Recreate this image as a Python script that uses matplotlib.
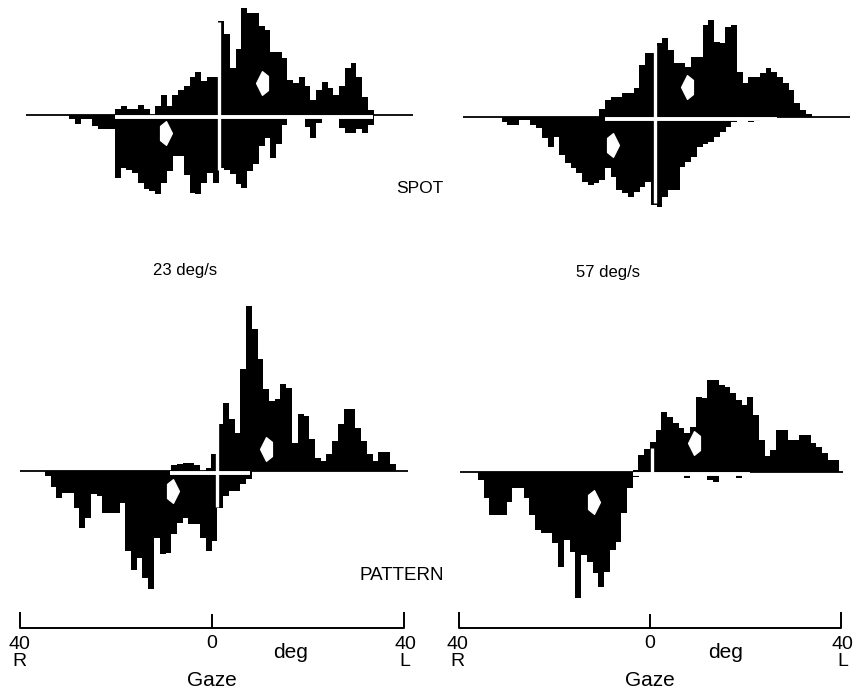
import matplotlib
matplotlib.use("Agg")
import matplotlib.pyplot as plt
import numpy as np
from matplotlib.path import Path

# gaze histograms, bins of 1.2 deg; counts above (leftward slow phase) and below the line
bin_w = 1.2

spot23_start = -29.85
spot23_up = [0, 0, 0, 0, 0, 0, 0, 0, 6, 9, 6, 6, 10, 6, 0, 9, 20, 9, 20, 25, 29, 38, 43, 34, 38, 38,
             94, 81, 47, 66, 107, 102, 102, 89, 85, 63, 63, 57, 35, 32, 38, 29, 15, 25, 33, 27, 20,
             29, 47, 52, 38, 18, 5]
spot23_down = [4, 9, 4, 4, 11, 14, 14, 14, 63, 53, 55, 58, 68, 74, 76, 79, 68, 56, 41, 41, 60, 78,
               79, 68, 58, 68, 53, 55, 59, 69, 73, 56, 49, 31, 23, 43, 29, 10, 0, 0, 0, 12, 23, 8,
               0, 0, 0, 13, 18, 18, 14, 18, 10]

spot57_start = -31.0
spot57_up = [0] * 17 + [8, 17, 20, 20, 24, 24, 29, 52, 64, 64, 74, 79, 67, 54, 54, 50, 60, 60, 92,
                        97, 75, 74, 90, 92, 45, 34, 40, 40, 44, 49, 45, 40, 34, 27, 14, 7, 3]
spot57_down = [5, 8, 8, 3, 3, 8, 11, 21, 30, 20, 38, 46, 51, 56, 65, 68, 66, 63, 51, 60, 73, 76, 80,
               75, 70, 65, 88, 90, 80, 73, 73, 50, 45, 40, 30, 27, 25, 20, 15, 10, 5, 0, 3, 5, 4,
               0, 0, 0, 0, 0, 0, 0, 0, 0]

pat23_start = -34.9
pat23_up = [0] * 22 + [6, 7, 8, 8, 6, 0, 3, 17, 47, 68, 52, 38, 102, 165, 142, 112, 82, 70, 72, 87,
                       83, 28, 57, 55, 32, 13, 10, 17, 30, 47, 62, 62, 43, 30, 17, 10, 19, 19, 7]
pat23_down = [5, 16, 27, 22, 22, 37, 57, 47, 23, 25, 42, 42, 42, 32, 80, 99, 87, 107, 118, 67, 83,
              82, 63, 52, 47, 53, 53, 67, 80, 70, 37, 25, 20, 20, 13, 8] + [0] * 25

pat57_start = -36.0
pat57_up = [0] * 27 + [2, 17, 23, 30, 42, 60, 55, 49, 44, 39, 45, 75, 74, 92, 92, 87, 85, 79, 72, 67,
                       75, 57, 32, 16, 22, 42, 42, 32, 32, 37, 37, 29, 25, 19, 12, 12]
pat57_down = [8, 26, 43, 43, 43, 30, 16, 16, 26, 43, 58, 61, 61, 71, 95, 68, 80, 126, 83, 90, 101,
              115, 100, 78, 70, 41, 16, 5, 0, 0, 0, 0, 0, 0, 0, 0, 6, 0, 0, 0, 8, 10, 0, 0, 0, 6,
              0, 0, 0, 0, 0, 0, 0, 0, 0, 0, 0, 0, 0, 0, 0, 0, 0]

# mean positions (deg, count) marked by white arrowheads
spot23_means = [(10.4, 32), (-9.6, -18)]
spot57_means = [(7.7, 30), (-7.7, -28)]
pat23_means = [(11.3, 22), (-8.1, -20)]
pat57_means = [(9.2, 29), (-11.7, -30)]

# white cross: (x of vertical, vertical from/to count, horizontal from/to deg)
spot23_cross = (1.46, 93, -55, -20.3, 33.6)
spot57_cross = (1.05, 72, -86, -9.4, 26.6)
pat23_cross = (1.04, 48, -36, -8.8, 7.9)
pat57_cross = (0.42, 24, -8, -3.6, 20.9)

# extent of the thin zero line
spot23_base = (-38.8, 41.9)
spot57_base = (-39.1, 41.8)
pat23_base = (-40.0, 41.0)
pat57_base = (-39.7, 40.4)

W, H = 858, 690
fig = plt.figure(figsize=(W / 100, H / 100), dpi=100)
fig.patch.set_facecolor("white")

# column geometry: pixel of 0 deg and px per deg
cols = {"L": (0, 430, 212, 4.79), "R": (430, 428, 650, 4.78)}


def col_axes(col, ylim):
    x0, w, zero, scale = cols[col]
    ax = fig.add_axes([x0 / W, 0, w / W, 1])
    ax.set_xlim((x0 - zero) / scale, (x0 + w - zero) / scale)
    ax.set_ylim(*ylim)
    ax.axis("off")
    ax.patch.set_alpha(0)
    return ax


arrow_l = Path([(-0.5, 0), (0, 1), (0.5, 0.6), (0.5, -0.6), (0, -1), (-0.5, 0)],
               [Path.MOVETO, Path.LINETO, Path.LINETO, Path.LINETO, Path.LINETO, Path.CLOSEPOLY])
arrow_r = Path([(0.5, 0), (0, 1), (-0.5, 0.6), (-0.5, -0.6), (0, -1), (0.5, 0)],
               [Path.MOVETO, Path.LINETO, Path.LINETO, Path.LINETO, Path.LINETO, Path.CLOSEPOLY])


def panel(col, base_px, start, up, down, means, cross, base):
    ax = col_axes(col, (base_px - H, base_px))
    up = np.array(up, float)
    down = np.array(down, float)
    x = start + bin_w * (np.arange(len(up)) + 0.5)
    ax.bar(x, up, width=bin_w * 1.02, color="black", linewidth=0)
    xd = start + bin_w * (np.arange(len(down)) + 0.5)
    ax.bar(xd, -down, width=bin_w * 1.02, color="black", linewidth=0)
    ax.plot(base, [0, 0], color="black", lw=1.3, solid_capstyle="butt")
    xv, ytop, ybot, h0, h1 = cross
    ax.plot([h0, h1], [-1.5, -1.5], color="white", lw=2.8, solid_capstyle="butt")
    ax.plot([xv, xv], [ybot, ytop], color="white", lw=2.4, solid_capstyle="butt")
    (xp, yp), (xn, yn) = means
    ax.plot([xp], [yp], marker=arrow_l, ms=17, color="white", mec="white", ls="none")
    ax.plot([xn], [yn], marker=arrow_r, ms=17, color="white", mec="white", ls="none")


panel("L", 115, spot23_start, spot23_up, spot23_down, spot23_means, spot23_cross, spot23_base)
panel("R", 117, spot57_start, spot57_up, spot57_down, spot57_means, spot57_cross, spot57_base)
panel("L", 471, pat23_start, pat23_up, pat23_down, pat23_means, pat23_cross, pat23_base)
panel("R", 472, pat57_start, pat57_up, pat57_down, pat57_means, pat57_cross, pat57_base)

lab_font = ["Liberation Sans", "DejaVu Sans"]

fig.text(420 / W, 1 - 188 / H, "SPOT", ha="center", va="center", fontsize=12.5, family=lab_font)
fig.text(185 / W, 1 - 270 / H, "23 deg/s", ha="center", va="center", fontsize=12, family=lab_font)
fig.text(608 / W, 1 - 272 / H, "57 deg/s", ha="center", va="center", fontsize=12, family=lab_font)
fig.text(402 / W, 1 - 576 / H, "PATTERN", ha="center", va="center", fontsize=13.5,
         family=lab_font)

# gaze scales under the pattern panels
for col, deg_x in (("L", 16.3), ("R", 15.9)):
    ax = col_axes(col, (H, 0))
    ax.plot([-40, -40, 40, 40], [613, 628, 628, 613], color="black", lw=1.4)
    ax.plot([0, 0], [628, 615], color="black", lw=1.4)
    kw = dict(ha="center", fontsize=14, family=lab_font)
    ax.text(-40.3, 649, "40", va="baseline", **kw)
    ax.text(-40.3, 666, "R", va="baseline", **kw)
    ax.text(40.3, 649, "40", va="baseline", **kw)
    ax.text(40.3, 666, "L", va="baseline", **kw)
    ax.text(0, 648, "0", va="baseline", **kw)
    ax.text(deg_x, 658, "deg", va="baseline", fontsize=15, ha="center", family=lab_font)
    ax.text(0, 686, "Gaze", va="baseline", fontsize=15, ha="center", family=lab_font)

fig.savefig("out.png", dpi=100, facecolor="white")
